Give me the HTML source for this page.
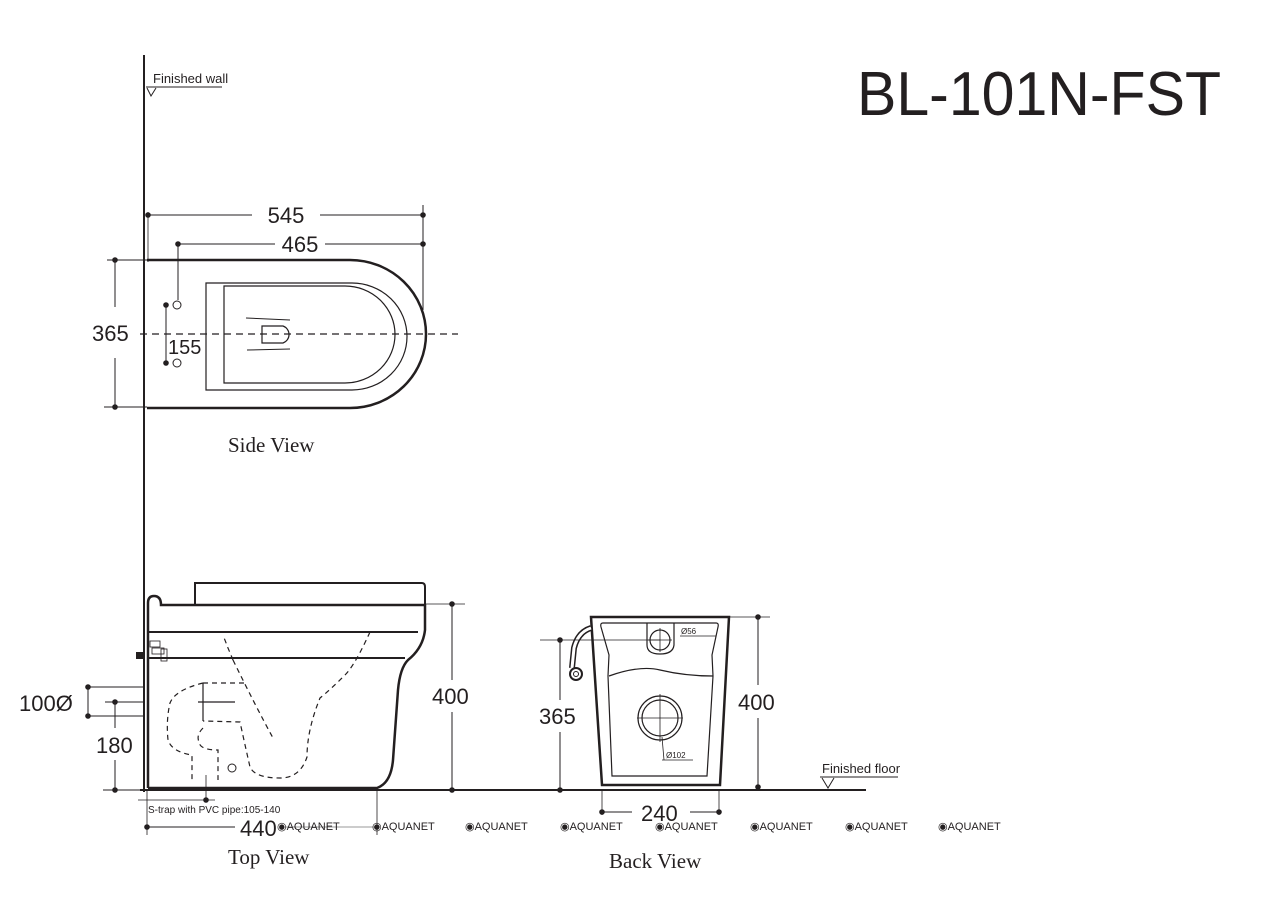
<!DOCTYPE html>
<html><head><meta charset="utf-8"><style>
html,body{margin:0;padding:0;background:#fff;}
svg{display:block;}
text{font-family:"Liberation Sans",sans-serif;fill:#231f20;}
.s{font-family:"Liberation Serif",serif;}
</style></head><body>
<svg width="1280" height="905" viewBox="0 0 1280 905" xmlns="http://www.w3.org/2000/svg">
<rect width="1280" height="905" fill="#fff"/>
<g stroke="#231f20" fill="none">
<line x1="144" y1="55" x2="144" y2="792" stroke-width="2"/>
<line x1="146" y1="87" x2="222" y2="87" stroke-width="1"/>
<path d="M147,88 L151,96 L156,88" stroke-width="1"/>

<path d="M147,260 H350 A76,74 0 0 1 350,408 H147" stroke-width="2.5"/>
<path d="M206,283 V390 H352 A55,53.5 0 0 0 352,283 Z" stroke-width="1.2"/>
<path d="M224,286 V383 H345 A50,48.5 0 0 0 345,286 Z" stroke-width="1.2"/>
<path d="M246,318 L290,320 M247,350 L290,349" stroke-width="1"/>
<path d="M262,326 H283 A9,9 0 0 1 283,343 H262 Z" stroke-width="1.2"/>
<line x1="140" y1="334" x2="458" y2="334" stroke-width="1.2" stroke-dasharray="7,5"/>
<circle cx="177" cy="305" r="4" stroke-width="1"/>
<circle cx="177" cy="363" r="4" stroke-width="1"/>
<line x1="166" y1="305" x2="166" y2="363" stroke-width="1"/>
<line x1="148" y1="215" x2="252" y2="215" stroke-width="1"/>
<line x1="320" y1="215" x2="423" y2="215" stroke-width="1"/>
<line x1="148" y1="212" x2="148" y2="262" stroke-width="0.8"/>
<line x1="423" y1="205" x2="423" y2="310" stroke-width="1"/>
<line x1="178" y1="244" x2="275" y2="244" stroke-width="1"/>
<line x1="325" y1="244" x2="423" y2="244" stroke-width="1"/>
<line x1="178" y1="244" x2="178" y2="300" stroke-width="1"/>
<line x1="107" y1="260" x2="147" y2="260" stroke-width="1"/>
<line x1="104" y1="407" x2="147" y2="407" stroke-width="1"/>
<line x1="115" y1="260" x2="115" y2="307" stroke-width="1"/>
<line x1="115" y1="358" x2="115" y2="407" stroke-width="1"/>

<line x1="140" y1="790" x2="866" y2="790" stroke-width="2"/>
<path d="M195,604 V583 H422 Q425,583 425,587 V604" stroke-width="2"/>
<path d="M148,788 V603 Q148,596 154,596 Q161,596 161,605 H426" stroke-width="2.5"/>
<line x1="148" y1="632" x2="418" y2="632" stroke-width="2"/>
<line x1="148" y1="658" x2="405" y2="658" stroke-width="2"/>
<path d="M425,604 V630 Q423,648 408,660 Q400,668 398,690 L393,760 Q391,783 377,788 H148" stroke-width="2.5"/>
<g stroke-width="1.2" stroke-dasharray="5,4">
<path d="M233,660 L228,648 L223,635"/>
<path d="M233,660 Q255,705 273,738"/>
<path d="M370,632 Q355,665 345,675 Q330,690 320,698 Q307,730 307,757 Q300,778 280,778 Q255,778 250,767 Q245,745 240,722 L203,721"/>
<path d="M203,683 H247"/>
<path d="M203,683 Q175,690 170,703 Q166,720 168,740 Q172,752 192,755 V782"/>
<path d="M203,728 Q196,735 199,742 Q200,750 218,750 V780"/>
</g>
<line x1="203" y1="683" x2="203" y2="721" stroke-width="1.2"/>
<line x1="198" y1="702" x2="235" y2="702" stroke-width="1.2"/>
<circle cx="232" cy="768" r="4" stroke-width="1"/>
<rect x="150" y="641" width="10" height="6" stroke-width="0.8"/>
<rect x="152" y="648" width="12" height="6" stroke-width="0.8"/>
<rect x="161" y="649" width="6" height="12" stroke-width="0.8"/>
<rect x="136" y="652" width="8" height="7" fill="#231f20" stroke="none"/>
<line x1="426" y1="604" x2="465" y2="604" stroke-width="0.8"/>
<line x1="452" y1="604" x2="452" y2="680" stroke-width="1"/>
<line x1="452" y1="712" x2="452" y2="790" stroke-width="1"/>
<line x1="88" y1="687" x2="144" y2="687" stroke-width="1"/>
<line x1="88" y1="716" x2="144" y2="716" stroke-width="1"/>
<line x1="88" y1="687" x2="88" y2="716" stroke-width="1"/>
<line x1="105" y1="702" x2="144" y2="702" stroke-width="1"/>
<line x1="115" y1="702" x2="115" y2="728" stroke-width="1"/>
<line x1="115" y1="760" x2="115" y2="790" stroke-width="1"/>
<line x1="103" y1="790" x2="140" y2="790" stroke-width="1"/>
<line x1="138" y1="800" x2="215" y2="800" stroke-width="0.8"/>
<line x1="206" y1="775" x2="206" y2="800" stroke-width="0.8"/>
<line x1="147" y1="790" x2="147" y2="835" stroke-width="0.8"/>
<line x1="377" y1="790" x2="377" y2="835" stroke-width="0.8"/>
<line x1="147" y1="827" x2="235" y2="827" stroke-width="1"/>
<line x1="285" y1="827" x2="377" y2="827" stroke-width="1" stroke="#999"/>

<path d="M591,617 H729 L720,785 H602 Z" stroke-width="2.5"/>
<path d="M603,623 H716 Q719,623 718,627 L712,655 L713,676 L707,776 H612 L608,676 L609,655 L601,627 Q600,623 603,623 Z" stroke-width="1.2"/>
<path d="M609,676 Q640,665 660,670 Q685,676 713,676" stroke-width="1.2"/>
<path d="M647,623 V645 Q647,654 660,654 Q673,654 674,645 V623" stroke-width="1.2"/>
<circle cx="660" cy="640" r="10" stroke-width="1.2"/>
<line x1="648" y1="640" x2="672" y2="640" stroke-width="0.8"/>
<line x1="660" y1="628" x2="660" y2="652" stroke-width="0.8"/>
<line x1="680" y1="636" x2="716" y2="636" stroke-width="0.8"/>
<circle cx="660" cy="718" r="22" stroke-width="1.2"/>
<circle cx="660" cy="718" r="18" stroke-width="1.2"/>
<line x1="637" y1="718" x2="683" y2="718" stroke-width="0.8"/>
<line x1="660" y1="694" x2="660" y2="742" stroke-width="0.8"/>
<line x1="662" y1="737" x2="664" y2="760" stroke-width="0.8"/>
<line x1="662" y1="760" x2="693" y2="760" stroke-width="0.8"/>
<path d="M591,628 Q578,632 574,648 L572,668" stroke-width="6"/>
<path d="M591,628 Q578,632 574,648 L572,668" stroke-width="3" stroke="#fff"/>
<circle cx="576" cy="674" r="6" stroke-width="2"/>
<circle cx="576" cy="674" r="2.5" stroke-width="1"/>
<line x1="540" y1="640" x2="660" y2="640" stroke-width="0.8"/>
<line x1="560" y1="640" x2="560" y2="700" stroke-width="1"/>
<line x1="560" y1="732" x2="560" y2="790" stroke-width="1"/>
<line x1="729" y1="617" x2="770" y2="617" stroke-width="0.8"/>
<line x1="758" y1="617" x2="758" y2="685" stroke-width="1"/>
<line x1="758" y1="718" x2="758" y2="790" stroke-width="1"/>
<line x1="602" y1="790" x2="602" y2="815" stroke-width="0.8"/>
<line x1="719" y1="790" x2="719" y2="815" stroke-width="0.8"/>
<line x1="602" y1="812" x2="632" y2="812" stroke-width="1"/>
<line x1="690" y1="812" x2="719" y2="812" stroke-width="1"/>
<line x1="820" y1="777" x2="898" y2="777" stroke-width="1"/>
<path d="M822,778 L828,788 L834,778" stroke-width="1"/>
</g>
<g fill="#231f20">
<circle cx="148" cy="215" r="2.8"/><circle cx="423" cy="215" r="2.8"/>
<circle cx="178" cy="244" r="2.8"/><circle cx="423" cy="244" r="2.8"/>
<circle cx="115" cy="260" r="2.8"/><circle cx="115" cy="407" r="2.8"/>
<circle cx="166" cy="305" r="2.8"/><circle cx="166" cy="363" r="2.8"/>
<circle cx="452" cy="604" r="2.8"/><circle cx="452" cy="790" r="2.8"/>
<circle cx="88" cy="687" r="2.8"/><circle cx="88" cy="716" r="2.8"/>
<circle cx="115" cy="702" r="2.8"/><circle cx="115" cy="790" r="2.8"/>
<circle cx="206" cy="800" r="2.8"/>
<circle cx="147" cy="827" r="2.8"/><circle cx="377" cy="827" r="2.8" fill="#999"/>
<circle cx="560" cy="640" r="2.8"/><circle cx="560" cy="790" r="2.8"/>
<circle cx="758" cy="617" r="2.8"/><circle cx="758" cy="787" r="2.8"/>
<circle cx="602" cy="812" r="2.8"/><circle cx="719" cy="812" r="2.8"/>
</g>
<text x="857" y="115" font-size="62" textLength="364" lengthAdjust="spacingAndGlyphs">BL-101N-FST</text>
<text x="153" y="83" font-size="13">Finished wall</text>
<text x="286" y="223" font-size="22" text-anchor="middle">545</text>
<text x="300" y="252" font-size="22" text-anchor="middle">465</text>
<text x="92" y="341" font-size="22">365</text>
<text x="168" y="354" font-size="20">155</text>
<text class="s" x="228" y="452" font-size="21">Side View</text>
<text x="432" y="704" font-size="22">400</text>
<text x="19" y="711" font-size="22">100Ø</text>
<text x="96" y="753" font-size="22">180</text>
<text x="148" y="813" font-size="10">S-trap with PVC pipe:105-140</text>
<text x="240" y="836" font-size="22">440</text>
<text class="s" x="228" y="864" font-size="21">Top View</text>
<text x="539" y="724" font-size="22">365</text>
<text x="738" y="710" font-size="22">400</text>
<text x="681" y="634" font-size="8">Ø56</text>
<text x="666" y="758" font-size="8">Ø102</text>
<text x="641" y="821" font-size="22">240</text>
<text x="822" y="773" font-size="13">Finished floor</text>
<text class="s" x="609" y="868" font-size="21">Back View</text>
<g font-size="11" style="fill:#d6d6d6">
<text x="277" y="830">◉AQUANET</text><text x="372" y="830">◉AQUANET</text>
<text x="465" y="830">◉AQUANET</text><text x="560" y="830">◉AQUANET</text>
<text x="655" y="830">◉AQUANET</text><text x="750" y="830">◉AQUANET</text>
<text x="845" y="830">◉AQUANET</text><text x="938" y="830">◉AQUANET</text>
</g>
</svg>
</body></html>
